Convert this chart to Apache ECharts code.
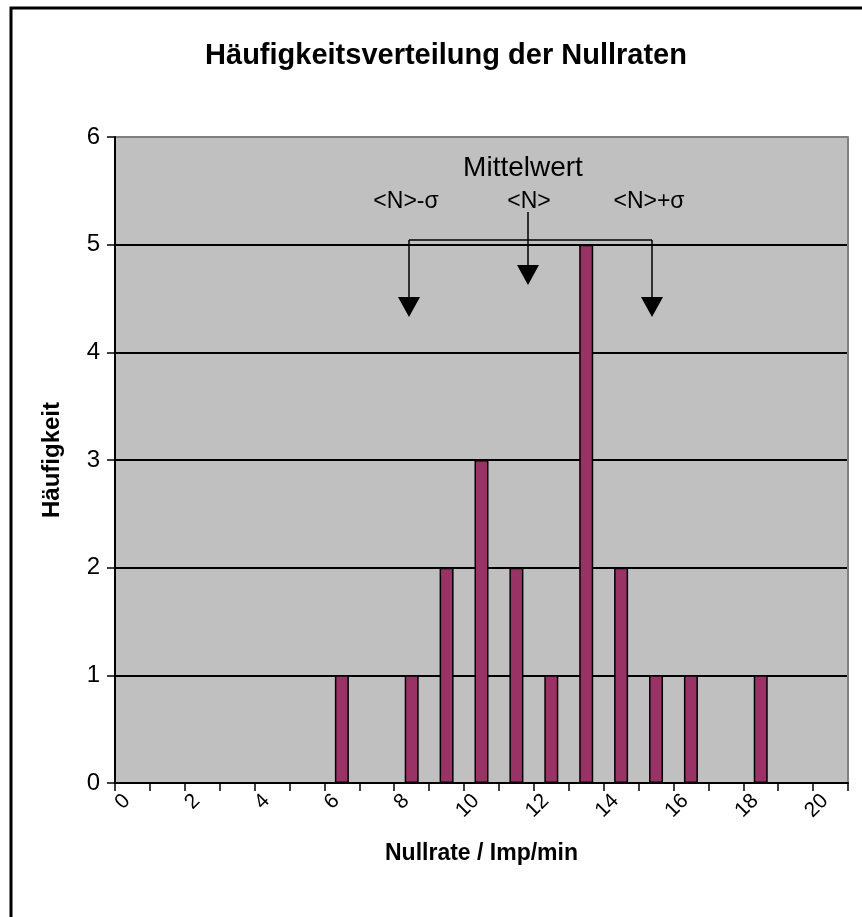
<!DOCTYPE html>
<html>
<head>
<meta charset="utf-8">
<script src="https://cdn.jsdelivr.net/npm/echarts@6/dist/echarts.min.js"></script>
<style>
  html, body { margin: 0; padding: 0; background: #fff; }
  #chart { width: 862px; height: 917px; }
</style>
</head>
<body>
<div id="chart"></div>
<script>
// Nullrate bins (Imp/min) and how often each occurred
const categories = ['0', '1', '2', '3', '4', '5', '6', '7', '8', '9', '10',
  '11', '12', '13', '14', '15', '16', '17', '18', '19', '20']
const counts = [0, 0, 0, 0, 0, 0, 1, 0, 1, 2, 3, 2, 1, 5, 2, 1, 1, 0, 1, 0, 0]

const chart = echarts.init(document.getElementById('chart'))

const font = 'Liberation Sans, Arial, sans-serif'
const arrowHead = (x, tipY) => ({
  type: 'polygon',
  shape: { points: [[x - 11, tipY - 20], [x + 11, tipY - 20], [x, tipY]] },
  style: { fill: '#000' }
})
const line = (x1, y1, x2, y2) => ({
  type: 'line',
  shape: { x1, y1, x2, y2 },
  style: { stroke: '#000', lineWidth: 1.5 }
})
const label = (text, x, y, size) => ({
  type: 'text',
  x, y,
  style: {
    text, fill: '#000', font: size + 'px ' + font,
    align: 'center', verticalAlign: 'middle'
  }
})

const option = {
  animation: false,
  backgroundColor: '#fff',
  title: {
    text: 'Häufigkeitsverteilung der Nullraten',
    left: 441,
    top: 36,
    textAlign: 'center',
    textStyle: { fontFamily: font, fontSize: 29, fontWeight: 'bold', color: '#000' }
  },
  grid: {
    left: 115,
    right: 14,
    top: 137,
    bottom: 134,
    show: true,
    backgroundColor: '#c0c0c0',
    borderWidth: 0
  },
  xAxis: {
    type: 'category',
    data: categories,
    boundaryGap: true,
    name: 'Nullrate / Imp/min',
    nameLocation: 'middle',
    nameGap: 59,
    nameTextStyle: { fontFamily: font, fontSize: 23, fontWeight: 'bold', color: '#000' },
    axisLine: { lineStyle: { color: '#000', width: 2 } },
    axisTick: { show: true, interval: 0, length: 8, lineStyle: { color: '#000', width: 1.5 } },
    axisLabel: {
      interval: 1,
      rotate: 45,
      margin: 9,
      padding: [0, 8, 0, 0],
      fontFamily: font,
      fontSize: 21,
      color: '#000'
    }
  },
  yAxis: [
    {
      type: 'value',
      min: 0,
      max: 6,
      interval: 1,
      name: 'Häufigkeit',
      nameLocation: 'middle',
      nameGap: 51,
      nameTextStyle: { fontFamily: font, fontSize: 24, fontWeight: 'bold', color: '#000' },
      axisLine: { show: true, lineStyle: { color: '#000', width: 2 } },
      axisTick: { show: true, length: 8, lineStyle: { color: '#000', width: 1.5 } },
      axisLabel: { margin: 15, fontFamily: font, fontSize: 24, color: '#000' },
      splitLine: {
        show: true,
        lineStyle: {
          color: ['#000', '#000', '#000', '#000', '#000', '#000', '#808080'],
          width: 2
        }
      }
    },
    {
      type: 'value',
      position: 'right',
      min: 0,
      max: 6,
      interval: 1,
      axisLine: { show: true, lineStyle: { color: '#808080', width: 2 } },
      axisTick: { show: false },
      axisLabel: { show: false },
      splitLine: { show: false }
    }
  ],
  series: [
    {
      type: 'bar',
      data: counts,
      barWidth: 14,
      itemStyle: { color: '#993366', borderColor: '#000', borderWidth: 1.5 }
    }
  ],
  graphic: [
    {
      type: 'rect',
      shape: { x: 11, y: 8, width: 900, height: 960 },
      style: { fill: 'none', stroke: '#000', lineWidth: 3 },
      silent: true
    },
    label('Mittelwert', 523, 168, 28),
    label('<N>-σ', 406, 202, 23),
    label('<N>', 529, 202, 23),
    label('<N>+σ', 649, 202, 23),
    line(409, 240, 652, 240),
    line(409, 240, 409, 300),
    line(652, 240, 652, 300),
    line(528, 212, 528, 268),
    arrowHead(409, 317),
    arrowHead(652, 317),
    arrowHead(528, 285)
  ]
}

chart.setOption(option)
</script>
</body>
</html>
